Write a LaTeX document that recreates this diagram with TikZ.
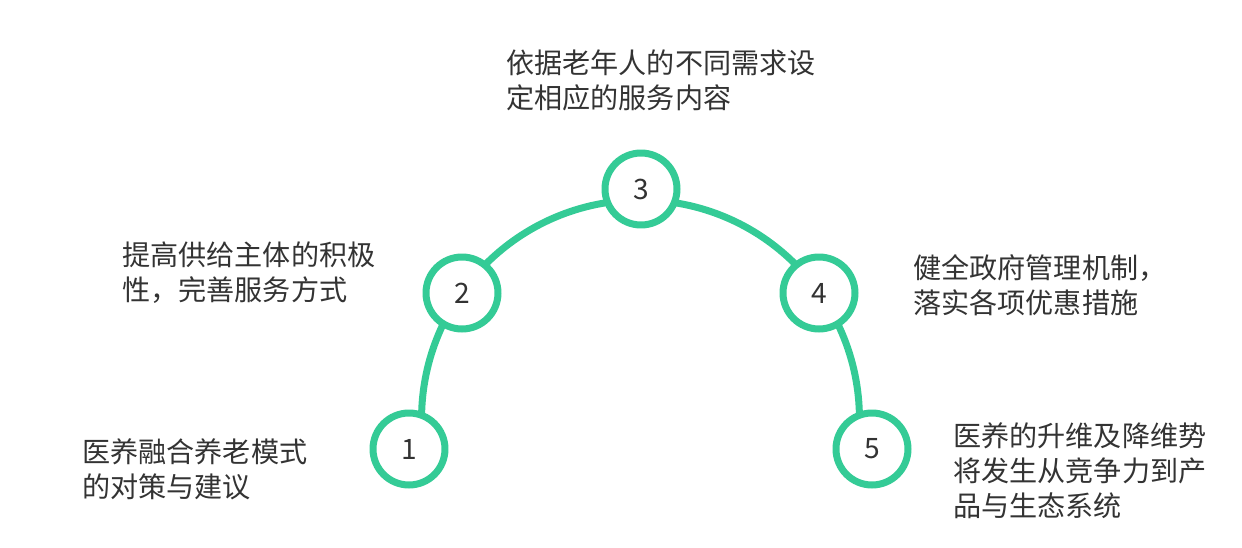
\documentclass[tikz,border=0pt]{standalone}
\usepackage{fontspec}
\usepackage{tikz}
\usetikzlibrary{positioning}
\usepackage{xcolor}
\newfontfamily\cjk{Noto Sans CJK SC}
\definecolor{StepGreen}{RGB}{52,203,150}
\definecolor{TextGray}{RGB}{51,51,51}
\newcommand{\ArcRadius}{4.38cm}
\newcommand{\StepFont}{\cjk\fontsize{16}{19.9}\selectfont}

\begin{document}
\begin{tikzpicture}[
  x=0.02cm, y=-0.02cm,
  step circle/.style={circle,draw=StepGreen,line width=0.14cm,fill=white,minimum size=1.44cm,inner sep=0pt,font=\StepFont,text=TextGray},
  desc/.style={anchor=west,align=left,inner sep=0pt,font=\StepFont,text=TextGray}
]
\useasboundingbox (0,0) rectangle (1242,548);

% Step positions
\coordinate (o) at (640.5,419);
\foreach \n/\x/\y in {1/409/449, 2/462/293, 3/641/189, 4/819/293, 5/872/449}{%
  \coordinate (p\n) at (\x,\y);
}

% Arc through the steps
\draw[StepGreen,line width=0.14cm] ([shift={(180:\ArcRadius)}]o) arc[start angle=180,end angle=0,radius=\ArcRadius];

% Step circles
\foreach \n in {1,...,5}{%
  \node[step circle] (c\n) at (p\n) {\n};
}

% Descriptions
\node[desc] (t1) at (82,469.5) {医养融合养老模式\\的对策与建议};
\node[desc] (t2) at (122,272.5) {提高供给主体的积极\\性，完善服务方式};
\node[desc] (t3) at (506,80.5) {依据老年人的不同需求设\\定相应的服务内容};
\node[desc] (t4) at (913,285) {健全政府管理机制，\\落实各项优惠措施};
\node[desc] (t5) at (953,471) {医养的升维及降维势\\将发生从竞争力到产\\品与生态系统};

\end{tikzpicture}
\end{document}
